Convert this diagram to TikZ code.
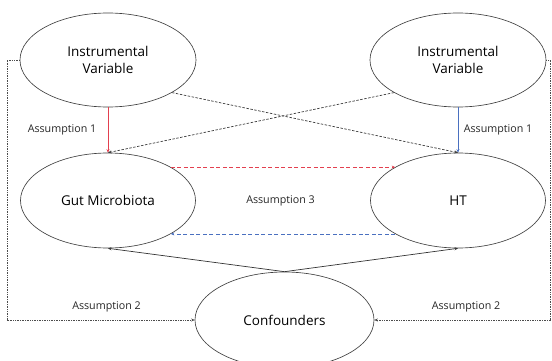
\documentclass[tikz,border=0pt]{standalone}
\usepackage{fontspec}
\setmainfont{Open Sans}
\usetikzlibrary{shapes.geometric,arrows.meta}
\definecolor{ared}{HTML}{E3404F}
\definecolor{ablue}{HTML}{4A70C0}
\definecolor{agray}{HTML}{3C3C3C}
\tikzset{
  ell/.style={draw=black!75, line width=0.65pt, ellipse, inner sep=0pt, font=\fontsize{13.5}{16.5}\selectfont, align=center},
  tip/.style={-{Stealth[length=3.5pt,width=3pt]}},
  lbl/.style={font=\fontsize{10.7}{12}\selectfont, text=black!85},
  conn/.style={line width=0.7pt},
}
\begin{document}
\begin{tikzpicture}[x=1pt,y=-1pt]
\useasboundingbox (0,0) rectangle (552,361);
\node[ell, minimum width=176pt, minimum height=94pt] (iv1) at (108,60) {Instrumental\\Variable};
\node[ell, minimum width=176pt, minimum height=94pt] (iv2) at (458,60) {Instrumental\\Variable};
\node[ell, minimum width=175pt, minimum height=95pt] (gm) at (108,200.5) {Gut Microbiota};
\node[ell, minimum width=175pt, minimum height=95pt] (ht) at (458,200.5) {HT};
\node[ell, minimum width=179pt, minimum height=96pt] (cf) at (284.5,320) {Confounders};

\coordinate (l1) at (7,60);
\coordinate (l2) at (7,320);
\coordinate (r1) at (550.5,60);
\coordinate (r2) at (550.5,320);

% Assumption 1
\draw[conn, tip, ared] (iv1.south) -- (gm.north);
\draw[conn, tip, ablue] (iv2.south) -- (ht.north);
% crossed dashed
\draw[conn, tip, agray, dash pattern=on 2.5pt off 1.5pt] (iv1.-27) -- (ht.north);
\draw[conn, tip, agray, dash pattern=on 2.5pt off 1.5pt] (iv2.207) -- (gm.north);
% Assumption 3
\draw[conn, tip, ared, dash pattern=on 4pt off 2.5pt] (gm.28) -- (ht.152);
\draw[conn, tip, ablue, dash pattern=on 4pt off 2.5pt] (ht.208) -- (gm.-28);
% confounders
\draw[conn, tip, black!80] (cf.north) -- (gm.south);
\draw[conn, tip, black!80] (cf.north) -- (ht.south);
% Assumption 2
\draw[conn, tip, black!70, densely dotted] (iv1.west) -- (l1) -- (l2) -- (cf.west);
\draw[conn, tip, black!70, densely dotted] (iv2.east) -- (r1) -- (r2) -- (cf.east);

\node[lbl] (a1l) at (62,130) {Assumption 1};
\node[lbl] (a1r) at (498,130) {Assumption 1};
\node[lbl] (a3) at (280.5,201) {Assumption 3};
\node[lbl] (a2l) at (106.5,307) {Assumption 2};
\node[lbl] (a2r) at (466,307) {Assumption 2};
\end{tikzpicture}
\end{document}
